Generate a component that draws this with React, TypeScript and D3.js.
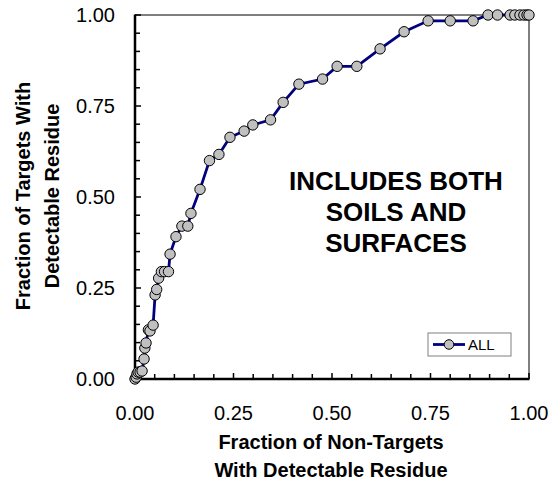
import React from "react";
import * as d3 from "d3";

const xValues = [0, 0.003, 0.005, 0.008, 0.013, 0.018, 0.023, 0.025, 0.028, 0.034, 0.038, 0.046, 0.051, 0.055, 0.06, 0.067, 0.075, 0.085, 0.089, 0.104, 0.119, 0.134, 0.142, 0.165, 0.189, 0.213, 0.241, 0.277, 0.299, 0.344, 0.376, 0.416, 0.476, 0.513, 0.563, 0.622, 0.683, 0.744, 0.8, 0.858, 0.896, 0.92, 0.952, 0.964, 0.977, 0.987, 0.995, 1.0];
const yValues = [0, 0.005, 0.014, 0.019, 0.019, 0.022, 0.055, 0.085, 0.099, 0.135, 0.132, 0.148, 0.231, 0.246, 0.277, 0.295, 0.295, 0.295, 0.343, 0.391, 0.42, 0.42, 0.455, 0.521, 0.6, 0.617, 0.664, 0.681, 0.698, 0.712, 0.76, 0.81, 0.824, 0.859, 0.859, 0.907, 0.954, 0.984, 0.984, 0.984, 1, 1, 1, 1, 1, 1, 1, 1];
const tickLabels = ["0.00", "0.25", "0.50", "0.75", "1.00"];
const seriesName = "ALL";
const annotation = ["INCLUDES BOTH", "SOILS AND", "SURFACES"];
const yTitle = ["Fraction of Targets With", "Detectable Residue"];
const xTitle = ["Fraction of Non-Targets", "With Detectable Residue"];

export default function App() {
  const W = 550, H = 482;
  const L = 135, R = 529, T = 15, B = 379;
  const x = d3.scaleLinear().domain([0, 1]).range([L, R]);
  const y = d3.scaleLinear().domain([0, 1]).range([B, T]);
  const pts = xValues.map((v, i) => [v, yValues[i]] as [number, number]);
  const line = d3.line<[number, number]>().x(d => x(d[0])).y(d => y(d[1]));
  const minor = d3.range(0, 1.0001, 0.05);
  const font = "Arial, 'Liberation Sans', sans-serif";
  return (
    <svg width={W} height={H} style={{ position: "absolute", left: 0, top: 0 }} fontFamily={font}>
      <rect width={W} height={H} fill="#fff" />
      {/* frame */}
      <line x1={L} x2={R} y1={T} y2={T} stroke="#000" strokeWidth={1} />
      <line x1={R} x2={R} y1={T} y2={B} stroke="#000" strokeWidth={1} />
      {/* ticks */}
      {minor.map((v, i) => {
        const major = i % 5 === 0;
        const len = major ? 6 : 5;
        return (
          <g key={i}>
            <line x1={L} x2={L + len} y1={y(v)} y2={y(v)} stroke="#000" strokeWidth={1.5} />
            <line x1={x(v)} x2={x(v)} y1={B} y2={B - len} stroke="#000" strokeWidth={1.5} />
          </g>
        );
      })}
      <line x1={L} x2={L} y1={T - 0.5} y2={B + 1} stroke="#000" strokeWidth={2.5} />
      <line x1={L - 1} x2={R + 0.5} y1={B} y2={B} stroke="#000" strokeWidth={2.5} />
      {tickLabels.map((t, i) => (
        <g key={t}>
          <text x={115} y={y(i * 0.25)} dy="0.35em" textAnchor="end" fontSize={20}>{t}</text>
          <text x={x(i * 0.25)} y={420} textAnchor="middle" fontSize={20}>{t}</text>
        </g>
      ))}
      {/* series */}
      <path d={line(pts) || ""} fill="none" stroke="#000080" strokeWidth={2.8} />
      {pts.map((p, i) => (
        <circle key={i} cx={x(p[0])} cy={y(p[1])} r={5.2} fill="#c0c0c0" stroke="#000" strokeWidth={1} />
      ))}
      {/* annotation */}
      {annotation.map((t, i) => (
        <text key={t} x={396} y={190 + i * 31} textAnchor="middle" fontSize={26} fontWeight="bold">{t}</text>
      ))}
      {/* legend */}
      <rect x={428} y={333} width={83} height={23} fill="#fff" stroke="#808080" strokeWidth={1} />
      <line x1={433} x2={465} y1={344.5} y2={344.5} stroke="#000080" strokeWidth={2.8} />
      <circle cx={449} cy={344.5} r={4.8} fill="#c0c0c0" stroke="#000" strokeWidth={1} />
      <text x={468} y={344.5} dy="0.35em" fontSize={15}>{seriesName}</text>
      {/* axis titles */}
      {yTitle.map((t, i) => (
        <text key={t} transform={`translate(${30 + i * 28.5},196) rotate(-90)`} textAnchor="middle" fontSize={20} fontWeight="bold">{t}</text>
      ))}
      {xTitle.map((t, i) => (
        <text key={t} x={331} y={448.5 + i * 28.5} textAnchor="middle" fontSize={20} fontWeight="bold">{t}</text>
      ))}
    </svg>
  );
}
